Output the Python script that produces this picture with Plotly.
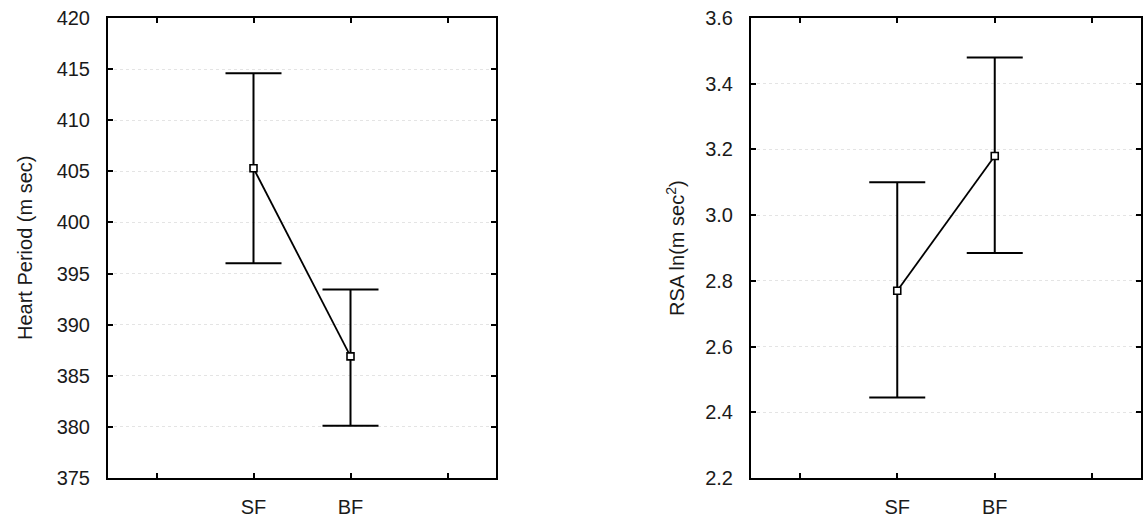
import plotly.graph_objects as go

categories = ["SF", "BF"]
cat_pos = [0, 1]

hp_mean = [405.3, 386.9]
hp_upper = [414.6, 393.45]
hp_lower = [396.0, 380.1]

rsa_mean = [2.77, 3.18]
rsa_upper = [3.10, 3.48]
rsa_lower = [2.445, 2.885]

hp_ticks = [375, 380, 385, 390, 395, 400, 405, 410, 415, 420]
rsa_ticks = [2.2, 2.4, 2.6, 2.8, 3.0, 3.2, 3.4, 3.6]
rsa_ticktext = ["2.2", "2.4", "2.6", "2.8", "3.0", "3.2", "3.4", "3.6"]

FONT = "Liberation Sans, Arial, sans-serif"

fig = go.Figure()

def add_series(mean, upper, lower, xa, ya):
    plus = [u - m for u, m in zip(upper, mean)]
    minus = [m - l for m, l in zip(mean, lower)]
    fig.add_trace(go.Scatter(
        x=cat_pos, y=mean, xaxis=xa, yaxis=ya,
        mode="lines+markers",
        line=dict(color="black", width=1.8),
        marker=dict(symbol="square", size=7, color="white",
                    line=dict(color="black", width=1.6)),
        error_y=dict(type="data", symmetric=False, array=plus, arrayminus=minus,
                     color="black", thickness=2, width=28),
        showlegend=False, hoverinfo="skip",
    ))

add_series(hp_mean, hp_upper, hp_lower, "x", "y")
add_series(rsa_mean, rsa_upper, rsa_lower, "x2", "y2")

xcommon = dict(
    range=[-1.5, 2.5], tickvals=[-1, 0, 1, 2], ticktext=[" ", "SF", "BF", " "],
    ticks="inside", ticklen=5, tickwidth=1.5, tickcolor="black",
    showline=True, linecolor="black", linewidth=2, mirror="ticks",
    showgrid=False, zeroline=False, ticklabelstandoff=10,
    tickfont=dict(family=FONT, size=20, color="#1a1a1a"),
)
ycommon = dict(
    ticks="inside", ticklen=5, tickwidth=1.5, tickcolor="black",
    showline=True, linecolor="black", linewidth=2, mirror="ticks",
    showgrid=True, gridcolor="#e4e4e4", griddash="dot", gridwidth=1,
    zeroline=False, ticklabelstandoff=12,
    tickfont=dict(family=FONT, size=20, color="#1a1a1a"),
)

fig.update_layout(
    width=1144, height=523,
    margin=dict(l=0, r=0, t=18, b=45),
    paper_bgcolor="white", plot_bgcolor="white",
    xaxis=dict(domain=[108/1144, 496/1144], anchor="y", **xcommon),
    yaxis=dict(domain=[0, 1], anchor="x", range=[375, 420], tickvals=hp_ticks, **ycommon),
    xaxis2=dict(domain=[751/1144, 1141/1144], anchor="y2", **xcommon),
    yaxis2=dict(domain=[0, 1], anchor="x2", range=[2.2, 3.6], tickvals=rsa_ticks,
                ticktext=rsa_ticktext, **ycommon),
    annotations=[
        dict(text="Heart Period (m sec)", x=25/1144, y=0.5, xref="paper", yref="paper",
             textangle=-90, showarrow=False, xanchor="center", yanchor="middle",
             font=dict(family=FONT, size=20, color="#1a1a1a")),
        dict(text="RSA ln(m sec<sup>2</sup>)", x=675/1144, y=0.5, xref="paper", yref="paper",
             textangle=-90, showarrow=False, xanchor="center", yanchor="middle",
             font=dict(family=FONT, size=20, color="#1a1a1a")),
    ],
)

fig.write_html("out.html", config={"displayModeBar": False},
               post_script="document.body.style.margin='0';document.body.style.overflow='hidden';")
